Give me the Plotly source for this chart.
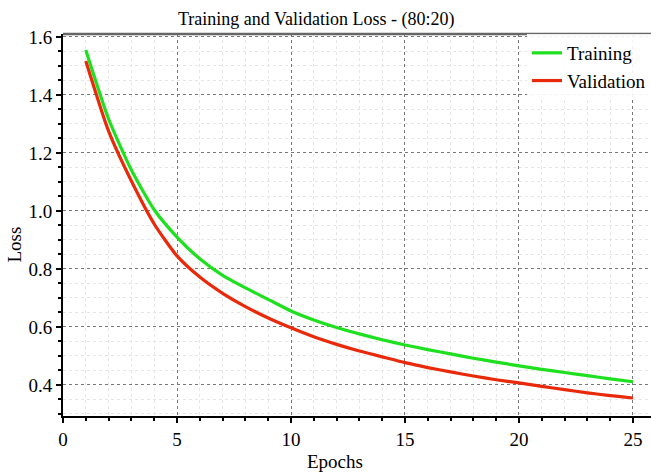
import plotly.graph_objects as go

epochs = list(range(1, 26))
training = [1.555, 1.317, 1.141, 1.004, 0.910, 0.835, 0.778, 0.735, 0.695, 0.655,
            0.624, 0.598, 0.576, 0.556, 0.538, 0.522, 0.507, 0.492, 0.479, 0.466,
            0.454, 0.443, 0.432, 0.421, 0.411]
validation = [1.517, 1.275, 1.103, 0.955, 0.845, 0.772, 0.716, 0.670, 0.631, 0.597,
              0.566, 0.540, 0.517, 0.497, 0.477, 0.460, 0.445, 0.431, 0.418, 0.407,
              0.395, 0.384, 0.373, 0.363, 0.355]

FONT = "Liberation Serif"

fig = go.Figure()
fig.add_trace(go.Scatter(x=epochs, y=training, mode="lines", name="Training",
                         line=dict(color="#1ee01e", width=3.2, shape="spline", smoothing=0.6)))
fig.add_trace(go.Scatter(x=epochs, y=validation, mode="lines", name="Validation",
                         line=dict(color="#e82a0a", width=3.2, shape="spline", smoothing=0.6)))

axis_common = dict(
    showline=True, linecolor="black", linewidth=2,
    ticks="outside", ticklen=5, tickcolor="black", tickwidth=1.5,
    showgrid=True, gridcolor="#777777", griddash="dot", gridwidth=1,
    zeroline=False,
    tickfont=dict(family=FONT, size=19, color="black"),
)

fig.update_xaxes(range=[0, 25.79], tickvals=[0, 5, 10, 15, 20, 25],
                 minor=dict(dtick=1, tick0=0, showgrid=True, gridcolor="#e6e6e6",
                            ticks="outside", ticklen=3, tickcolor="black"),
                 **axis_common)
fig.update_yaxes(range=[0.293, 1.61], tickvals=[0.4, 0.6, 0.8, 1.0, 1.2, 1.4, 1.6],
                 ticktext=["0.4", "0.6", "0.8", "1.0", "1.2", "1.4", "1.6"],
                 minor=dict(dtick=0.05, tick0=0, showgrid=True, gridcolor="#e6e6e6",
                            ticks="outside", ticklen=3, tickcolor="black"),
                 **axis_common)

fig.add_shape(type="line", xref="paper", yref="paper", x0=0, x1=1, y0=1, y1=1,
              line=dict(color="#666666", width=2.5))

fig.add_annotation(text="Training and Validation Loss - (80:20)", xref="paper", yref="paper",
                   x=(316 - 63) / 588, y=1, yanchor="bottom", yshift=2, showarrow=False,
                   font=dict(family=FONT, size=18, color="black"))
fig.add_annotation(text="Epochs", xref="paper", yref="paper",
                   x=(335 - 63) / 588, y=0, yanchor="top", yshift=-33, showarrow=False,
                   font=dict(family=FONT, size=19, color="black"))
fig.add_annotation(text="Loss", xref="paper", yref="paper", textangle=-90,
                   x=0, xanchor="right", xshift=-36, y=(416 - 245) / 382, showarrow=False,
                   font=dict(family=FONT, size=19, color="black"))

fig.update_layout(
    width=651, height=472,
    margin=dict(l=63, r=0, t=34, b=56),
    paper_bgcolor="white", plot_bgcolor="white",
    showlegend=True,
    legend=dict(x=1, xanchor="right", y=1, yanchor="top",
                bgcolor="rgba(255,255,255,0.9)", borderwidth=0,
                font=dict(family=FONT, size=19, color="black"),
                tracegroupgap=0, itemwidth=30),
)

fig.write_html("out.html")
